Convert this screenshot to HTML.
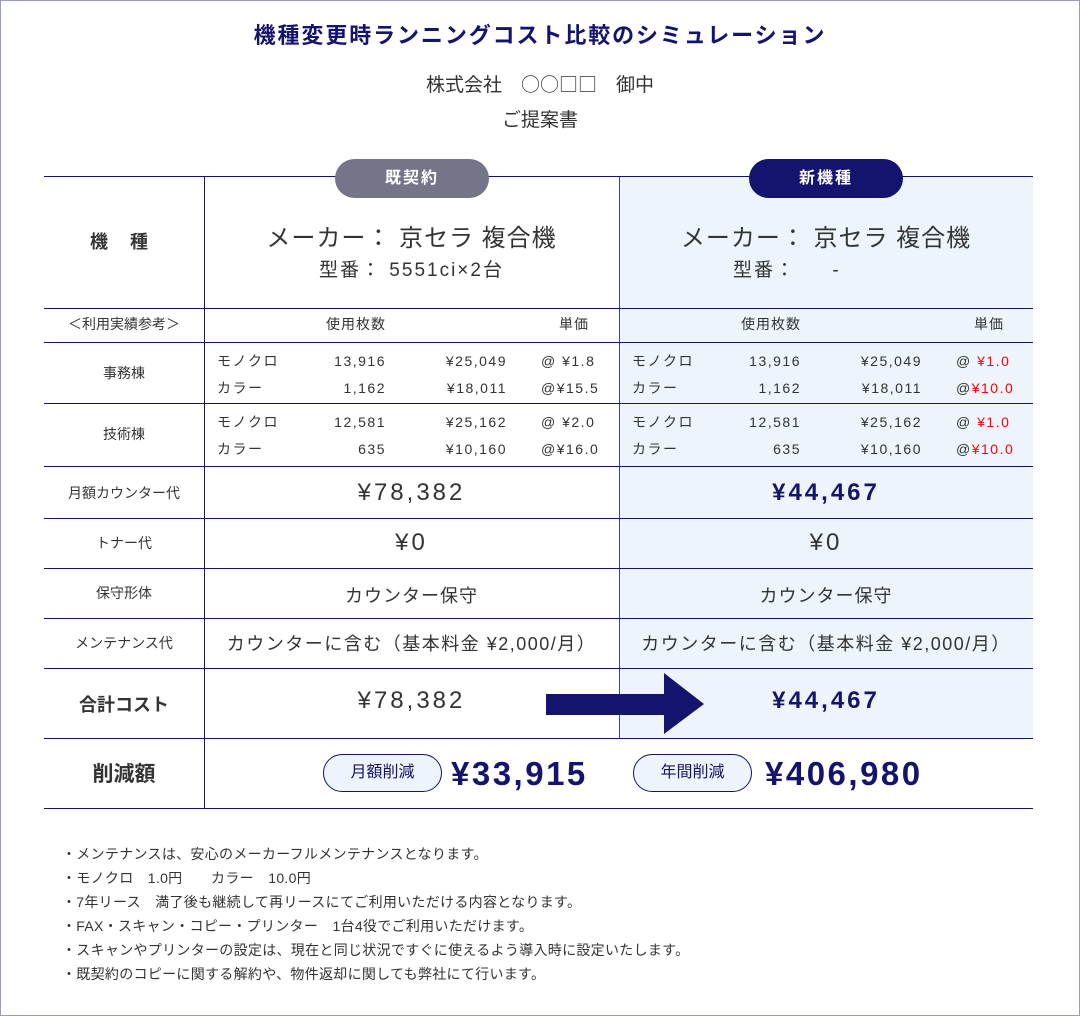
<!DOCTYPE html>
<html><head><meta charset="utf-8">
<style>
*{margin:0;padding:0;box-sizing:border-box}
body{width:1080px;height:1016px;background:#fff;font-family:"Liberation Sans","Noto Sans CJK JP",sans-serif;color:#333;position:relative;overflow:hidden}
.frame{position:absolute;left:0;top:0;width:1080px;height:1016px;border:1px solid #9a9ac8}
.a{position:absolute;white-space:nowrap;line-height:1}
.c{text-align:center}
.r{text-align:right}
.hl{position:absolute;height:1px;background:#14146e}
.vl{position:absolute;width:1px;background:#14146e}
.navy{color:#14146e}
.red{color:#f00}
.s{font-size:14px;letter-spacing:1.5px}
</style></head><body>
<div class="frame"></div>
<div class="a c navy" style="left:0;width:1080px;top:25px;font-size:22px;font-weight:bold;letter-spacing:1.9px">機種変更時ランニングコスト比較のシミュレーション</div>
<div class="a c" style="left:0;width:1080px;top:74px;font-size:19px;color:#333;font-family:'Noto Sans CJK JP',sans-serif">株式会社　○○□□　御中</div>
<div class="a c" style="left:0;width:1080px;top:109px;font-size:19px;color:#333;font-family:'Noto Sans CJK JP',sans-serif">ご提案書</div>

<div style="position:absolute;left:620px;top:177px;width:413px;height:561px;background:#edf4fb"></div>

<div class="hl" style="left:44px;top:176px;width:989px"></div>
<div class="hl" style="left:44px;top:308px;width:989px"></div>
<div class="hl" style="left:44px;top:342px;width:989px"></div>
<div class="hl" style="left:44px;top:403px;width:989px"></div>
<div class="hl" style="left:44px;top:466px;width:989px"></div>
<div class="hl" style="left:44px;top:518px;width:989px"></div>
<div class="hl" style="left:44px;top:568px;width:989px"></div>
<div class="hl" style="left:44px;top:618px;width:989px"></div>
<div class="hl" style="left:44px;top:668px;width:989px"></div>
<div class="hl" style="left:44px;top:738px;width:989px"></div>
<div class="hl" style="left:44px;top:808px;width:989px"></div>
<div class="vl" style="left:204px;top:177px;height:631px"></div>
<div class="vl" style="left:619px;top:177px;height:561px;opacity:.8"></div>

<div class="a c" style="left:335px;top:159px;width:154px;height:39px;border-radius:20px;background:#75758a;color:#fff;font-size:16px;font-weight:bold;line-height:39px;letter-spacing:2px">既契約</div>
<div class="a c" style="left:749px;top:159px;width:154px;height:39px;border-radius:20px;background:#14146e;color:#fff;font-size:16px;font-weight:bold;line-height:39px;letter-spacing:2px">新機種</div>

<!-- row labels -->
<div class="a c" style="left:40px;width:160px;top:233px;font-size:18px;font-weight:bold;letter-spacing:2px">機　種</div>
<div class="a c" style="left:44px;width:160px;top:317px;font-size:14px">＜利用実績参考＞</div>
<div class="a c" style="left:44px;width:160px;top:366px;font-size:14px">事務棟</div>
<div class="a c" style="left:44px;width:160px;top:427px;font-size:14px">技術棟</div>
<div class="a c" style="left:44px;width:160px;top:486px;font-size:14px">月額カウンター代</div>
<div class="a c" style="left:44px;width:160px;top:536px;font-size:14px">トナー代</div>
<div class="a c" style="left:44px;width:160px;top:586px;font-size:14px">保守形体</div>
<div class="a c" style="left:44px;width:160px;top:636px;font-size:14px">メンテナンス代</div>
<div class="a c" style="left:44px;width:160px;top:696px;font-size:18px;font-weight:bold">合計コスト</div>
<div class="a c" style="left:44px;width:160px;top:764px;font-size:21px;font-weight:bold">削減額</div>

<!-- old column -->
<div class="a c" style="left:204px;width:415px;top:227px;font-size:24px;letter-spacing:1px">メーカー：&nbsp;京セラ 複合機</div>
<div class="a c" style="left:204px;width:415px;top:261px;font-size:19px;letter-spacing:2px">型番：&nbsp;5551ci×2台</div>
<div class="a" style="left:326px;top:317px;font-size:14px;letter-spacing:1px">使用枚数</div>
<div class="a" style="left:559px;top:317px;font-size:14px;letter-spacing:1px">単価</div>

<div class="a s" style="left:217px;top:354px">モノクロ</div><div class="a s r" style="left:300px;width:86px;top:354px">13,916</div><div class="a s r" style="left:400px;width:107px;top:354px">¥25,049</div><div class="a s" style="left:541px;top:354px">@ ¥1.8</div>
<div class="a s" style="left:217px;top:381px">カラー</div><div class="a s r" style="left:300px;width:86px;top:381px">1,162</div><div class="a s r" style="left:400px;width:107px;top:381px">¥18,011</div><div class="a s" style="left:541px;top:381px">@¥15.5</div>
<div class="a s" style="left:217px;top:415px">モノクロ</div><div class="a s r" style="left:300px;width:86px;top:415px">12,581</div><div class="a s r" style="left:400px;width:107px;top:415px">¥25,162</div><div class="a s" style="left:541px;top:415px">@ ¥2.0</div>
<div class="a s" style="left:217px;top:442px">カラー</div><div class="a s r" style="left:300px;width:86px;top:442px">635</div><div class="a s r" style="left:400px;width:107px;top:442px">¥10,160</div><div class="a s" style="left:541px;top:442px">@¥16.0</div>

<div class="a c" style="left:204px;width:415px;top:481px;font-size:24px;letter-spacing:3px">¥78,382</div>
<div class="a c" style="left:204px;width:415px;top:531px;font-size:24px;letter-spacing:3px">¥0</div>
<div class="a c" style="left:204px;width:415px;top:587px;font-size:18px;letter-spacing:1px">カウンター保守</div>
<div class="a c" style="left:204px;width:415px;top:635px;font-size:18px;letter-spacing:1.5px">カウンターに含む（基本料金 ¥2,000/月）</div>
<div class="a c" style="left:204px;width:415px;top:689px;font-size:24px;letter-spacing:3px">¥78,382</div>

<!-- new column -->
<div class="a c" style="left:619px;width:414px;top:227px;font-size:24px;letter-spacing:1px">メーカー：&nbsp;京セラ 複合機</div>
<div class="a" style="left:733px;top:261px;font-size:19px;letter-spacing:2px">型番：&nbsp;&nbsp;&nbsp;&nbsp;&nbsp;-</div>
<div class="a" style="left:741px;top:317px;font-size:14px;letter-spacing:1px">使用枚数</div>
<div class="a" style="left:974px;top:317px;font-size:14px;letter-spacing:1px">単価</div>

<div class="a s" style="left:632px;top:354px">モノクロ</div><div class="a s r" style="left:715px;width:86px;top:354px">13,916</div><div class="a s r" style="left:815px;width:107px;top:354px">¥25,049</div><div class="a s" style="left:956px;top:354px">@ <span class="red">¥1.0</span></div>
<div class="a s" style="left:632px;top:381px">カラー</div><div class="a s r" style="left:715px;width:86px;top:381px">1,162</div><div class="a s r" style="left:815px;width:107px;top:381px">¥18,011</div><div class="a s" style="left:956px;top:381px">@<span class="red">¥10.0</span></div>
<div class="a s" style="left:632px;top:415px">モノクロ</div><div class="a s r" style="left:715px;width:86px;top:415px">12,581</div><div class="a s r" style="left:815px;width:107px;top:415px">¥25,162</div><div class="a s" style="left:956px;top:415px">@ <span class="red">¥1.0</span></div>
<div class="a s" style="left:632px;top:442px">カラー</div><div class="a s r" style="left:715px;width:86px;top:442px">635</div><div class="a s r" style="left:815px;width:107px;top:442px">¥10,160</div><div class="a s" style="left:956px;top:442px">@<span class="red">¥10.0</span></div>

<div class="a c navy" style="left:619px;width:414px;top:481px;font-size:24px;font-weight:bold;letter-spacing:3px">¥44,467</div>
<div class="a c" style="left:619px;width:414px;top:531px;font-size:24px;letter-spacing:3px">¥0</div>
<div class="a c" style="left:619px;width:414px;top:587px;font-size:18px;letter-spacing:1px">カウンター保守</div>
<div class="a c" style="left:619px;width:414px;top:635px;font-size:18px;letter-spacing:1.5px">カウンターに含む（基本料金 ¥2,000/月）</div>
<div class="a c navy" style="left:619px;width:414px;top:689px;font-size:24px;font-weight:bold;letter-spacing:3px">¥44,467</div>

<svg style="position:absolute;left:546px;top:673px" width="160" height="62">
<rect x="0" y="21" width="120" height="21" fill="#14146e"/>
<polygon points="118,0 158,31 118,61" fill="#14146e"/>
</svg>

<!-- savings -->
<div class="a c" style="left:323px;top:754px;width:119px;height:38px;border:1px solid #14146e;border-radius:19px;background:#edf4fb;color:#14146e;font-size:16px;line-height:36px">月額削減</div>
<div class="a navy" style="left:451px;top:757px;font-size:33px;font-weight:bold;letter-spacing:2.5px">¥33,915</div>
<div class="a c" style="left:633px;top:754px;width:119px;height:38px;border:1px solid #14146e;border-radius:19px;background:#edf4fb;color:#14146e;font-size:16px;line-height:36px">年間削減</div>
<div class="a navy" style="left:765px;top:757px;font-size:33px;font-weight:bold;letter-spacing:2.5px">¥406,980</div>

<!-- notes -->
<div style="position:absolute;left:62px;top:842px;font-size:14px;line-height:24px;color:#333;letter-spacing:0.3px">
<div>・メンテナンスは、安心のメーカーフルメンテナンスとなります。</div>
<div>・モノクロ　1.0円　　カラー　10.0円</div>
<div>・7年リース　満了後も継続して再リースにてご利用いただける内容となります。</div>
<div>・FAX・スキャン・コピー・プリンター　1台4役でご利用いただけます。</div>
<div>・スキャンやプリンターの設定は、現在と同じ状況ですぐに使えるよう導入時に設定いたします。</div>
<div>・既契約のコピーに関する解約や、物件返却に関しても弊社にて行います。</div>
</div>
</body></html>
